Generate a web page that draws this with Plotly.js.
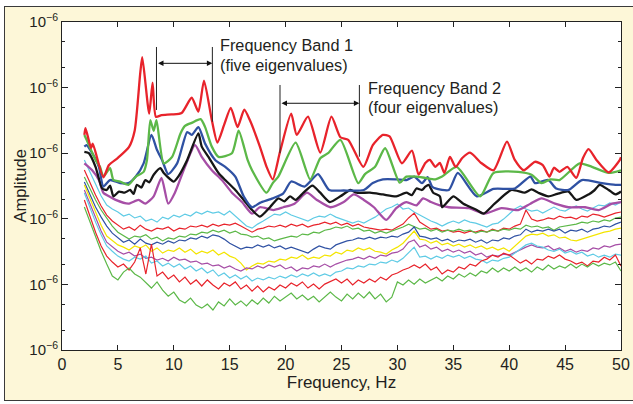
<!DOCTYPE html>
<html><head><meta charset="utf-8">
<script src="https://cdn.plot.ly/plotly-3.0.1.min.js"></script>
<style>
html,body{margin:0;padding:0;background:#fff;}
#frame{position:absolute;left:4px;top:6px;width:640px;height:395px;background:#fdf7d8;border:1.5px solid #3a3a3a;box-sizing:border-box;}
#chart{position:absolute;left:0;top:0;width:633px;height:404px;}
</style></head><body>
<div id="frame"></div><div id="chart"></div>
<script>
// ---- thin (noisy) channels, sampled every 0.5 Hz ----
const freqThin = [2,2.5,3,3.5,4,4.5,5,5.5,6,6.5,7,7.5,8,8.5,9,9.5,10,10.5,11,11.5,12,12.5,13,13.5,14,14.5,15,15.5,16,16.5,17,17.5,18,18.5,19,19.5,20,20.5,21,21.5,22,22.5,23,23.5,24,24.5,25,25.5,26,26.5,27,27.5,28,28.5,29,29.5,30,30.5,31,31.5,32,32.5,33,33.5,34,34.5,35,35.5,36,36.5,37,37.5,38,38.5,39,39.5,40,40.5,41,41.5,42,42.5,43,43.5,44,44.5,45,45.5,46,46.5,47,47.5,48,48.5,49,49.5,50];
const cyanThin1 = [787,517,327,223,162,141,127,110,118,103, 110,92.5,99,89,106,99,114,106,118,110, 127,118,131,122,127,114,131,110,92.5,77.5, 72,83,92.5,103,118,114,127,114,106,99, 92.5,103,110,106,118,106,99,92.5,86,92.5, 86,96,106,122,141,151,168,141,146,127, 114,103,92.5,86,77.5,86,92.5,86,96,89, 86,80,75,83,86,99,118,141,157,141, 131,136,122,136,151,136,131,146,157,141, 131,146,162,157,174,162,180];
const redThin1 = [554,351,231,157,114,92.5,80,69.5,75,67, 80,69.5,65,72,69.5,75,65,72,69.5,77.5, 75,80,75,83,77.5,83,80,86,77.5,69.5, 62.5,69.5,72,77.5,75,80,75,83,77.5,83, 75,80,83,89,83,89,80,86,77.5,83, 75,72,69.5,67,69.5,67,75,83,103,122, 89,77.5,69.5,72,65,67,62.5,65,60.5,65, 62.5,67,62.5,69.5,65,72,69.5,77.5,83,136, 99,92.5,96,103,99,110,103,106,99,110, 106,118,114,106,114,122,127];
const greenThin1 = [434,285,193,136,103,77.5,62.5,54.5,49,54.5, 52.5,57,49,52.5,46,51,49,54.5,52.5,58.5, 57,62.5,60.5,67,62.5,67,60.5,65,58.5,57, 52.5,54.5,49,51,46,49,51,54.5,52.5,58.5, 57,62.5,60.5,67,69.5,75,72,77.5,69.5,72, 65,67,60.5,65,60.5,65,69.5,75,83,75, 69.5,72,65,69.5,62.5,67,65,69.5,65,67, 60.5,65,62.5,67,65,69.5,67,72,69.5,80, 75,77.5,72,75,67,75,77.5,80,83,89, 86,92.5,89,96,92.5,103,106];
const blueThin1 = [364,231,151,106,77.5,60.5,51,44,47.5,41, 49,42.5,40,44,41,46,42.5,47.5,46,51, 49,54.5,51,57,54.5,49,42.5,38.5,34.5,37, 36,40,37,40,36,38.5,34.5,37,34.5,32, 30,34.5,38.5,36,34.5,40,42.5,46,47.5,51, 49,52.5,49,52.5,51,54.5,52.5,58.5,62.5,75, 54.5,52.5,49,51,46,49,44,47.5,46,49, 44,47.5,42.5,47.5,46,51,49,54.5,57,69.5, 62.5,67,65,69.5,65,69.5,60.5,67,65,69.5, 62.5,69.5,72,77.5,75,83,89];
const yellowThin = [327,200,127,80,54.5,46,40,37,33.4,38.5, 36,40,32,36,30,33.4,32,36,31,34.5, 29,32,30,33.4,28,31,27,25,21.1,16.6, 19.1,21.1,20.4,22.7,21.9,24.3,23.5,26,25,28, 24.3,26,25,28,27,31,29,33.4,32,36, 33.4,36,32,31,29,33.4,37,42.5,52.5,65, 49,47.5,42.5,46,40,42.5,38.5,41,37,40, 36,38.5,34.5,37,33.4,36,32,38.5,46,54.5, 58.5,57,60.5,54.5,57,51,52.5,47.5,46,49, 51,54.5,58.5,62.5,65,69.5,72];
const magentaThin1 = [275,168,103,65,44,37,32,29,31,27, 29,25,26,23.5,25,22.7,26,23.5,24.3,21.9, 22.7,20.4,21.1,19.1,19.8,17.8,19.1,17.2,16,17.8, 17.2,19.1,17.8,19.8,18.4,19.8,17.2,18.4,16,17.8, 17.2,19.1,18.4,20.4,18.4,20.4,21.9,23.5,24.3,26, 24.3,27,25,28,27,30,31,34.5,44,47.5, 37,40,34.5,37,32,34.5,31,33.4,30,32, 28,30,26,28,27,29,28,31,33.4,37, 40,37,36,38.5,33.4,36,32,34.5,31,33.4, 32,36,34.5,38.5,37,40,41];
const cyanThin2 = [247,146,89,57,38.5,32,27,24.3,22.7,26, 24.3,27,21.1,22.7,19.1,21.1,18.4,20.4,17.2,19.1, 16,17.8,14.9,16.6,13.4,14.9,12.5,13.9,12.1,13.4, 11.3,12.5,11.7,12.9,12.1,13.4,12.5,13.9,12.9,14.4, 13.4,14.9,13.4,14.4,13.4,15.4,16,17.8,17.2,19.1, 18.4,20.4,19.8,21.9,21.1,23.5,21.9,25,31,37, 26,27,24.3,27,25,28,26,28,25,27, 24.3,23.5,21.1,23.5,22.7,25,26,30,34.5,40, 42.5,38.5,37,33.4,32,34.5,30,32,29,31, 27,29,26,28,26,29,28];
const redThin2 = [193,106,62.5,38.5,27,21.9,18.4,20.4,16.6,21.9, 36,14.4,41,13.4,15.4,12.1,13.9,10.9,12.9,10.1, 11.7,9.45,11.7,9.8,8.5,10.5,9.45,10.9,8.5,9.8, 7.9,9.45,7.65,9.1,8.2,9.8,8.8,10.5,9.45,10.9, 8.8,10.1,8.5,10.1,10.9,12.1,10.5,12.1,9.8,11.7, 10.5,12.1,10.9,12.9,11.7,13.9,14.9,16.6,17.8,19.8, 17.8,20.4,16.6,18.4,14.4,16.6,15.4,18.4,17.2,20.4, 19.1,22.7,24.3,28,26,30,28,24.3,21.1,23.5, 20.4,24.3,23.5,27,25,28,24.3,22.7,20.4,21.9, 19.1,22.7,21.9,26,23.5,28,19.1];
const greenThin2 = [151,89,51,32,20.4,13.4,11.7,15.4,17.8,14.4, 12.9,10.5,8.8,10.9,8.2,6.6,7.65,5.8,5.2,6.2, 4.85,4.35,5.0,4.07,5.4,4.7,6.0,4.85,5.6,4.7, 5.8,5.0,6.2,5.2,6.6,5.6,6.4,7.4,6.0,6.9, 5.8,6.6,5.4,6.4,7.65,6.4,5.6,7.1,6.0,7.4, 6.2,7.65,6.0,7.1,5.4,6.4,10.9,9.8,11.7,10.1, 12.1,10.5,11.7,12.9,11.3,13.4,12.1,14.4,12.9,14.9, 13.4,16,14.9,17.8,15.4,17.8,16,18.4,16,17.8, 15.4,18.4,16.6,19.8,17.2,19.1,17.8,20.4,17.8,20.4, 18.4,21.1,19.1,21.1,19.8,21.9,16];

// ---- thick channels ----
const redF = [2.0,2.1,2.6,2.75,3.7,4.2,5.0,6.0,6.5,7.0,7.18,7.8,8.1,8.4,8.9,9.8,10.7,11.6,12.2,12.7,13.4,13.9,14.5,15.1,15.7,16.3,16.8,17.7,18.3,18.85,19.5,20.5,21.0,22.0,23.1,24.1,24.9,25.6,26.95,27.8,28.7,29.3,30.4,31.3,31.9,32.5,32.9,33.4,33.8,34.2,34.7,35.2,35.8,36.5,37.5,38.6,39.8,40.5,41.3,42.3,43.0,43.6,44.0,44.5,45.2,46.0,46.6,47.1,47.8,48.9,49.9,50];
const redA = [1900,2400,1200,1400,430,660,850,1250,2200,16700,29000,4000,11900,3600,3800,3900,4100,7000,4300,12800,3200,1450,2700,4900,2500,4600,3200,1260,620,400,1050,4000,1900,3600,1020,3600,1750,1600,620,1330,1900,1800,700,1090,470,710,790,620,710,500,880,620,845,1020,710,550,1500,790,550,740,660,440,600,520,620,420,845,1150,790,510,790,870];
const greenF = [2.0,2.2,3.0,3.4,3.7,4.3,4.6,5.2,5.95,6.6,7.3,7.6,7.9,8.2,8.45,9.1,9.85,10.6,11.0,11.6,12.4,12.8,13.4,14.0,15.2,15.8,16.6,17.0,18.3,18.85,19.35,20.9,22.2,23.1,23.8,24.9,26.5,27.1,28.0,28.9,30.2,30.8,31.7,32.5,33.4,34.0,35.3,37.4,38.6,40.8,42.0,42.9,43.7,44.5,46.3,47.4,48.9,50];
const greenA = [1900,1600,790,620,440,590,390,370,330,440,520,790,3200,2200,3200,700,880,2000,2600,2900,3300,2500,1260,880,1000,2200,790,550,250,350,440,1450,400,840,1000,1600,350,480,620,1190,355,440,440,420,400,440,620,220,500,520,470,350,400,390,700,620,500,550];
const blueF = [2.0,2.2,2.7,3.3,3.7,4.3,5.2,5.95,6.6,7.3,8.0,8.5,8.95,9.5,10.3,11.2,11.6,12.2,12.8,13.7,14.6,15.5,16.25,17.0,17.7,18.85,19.8,20.5,21.7,22.9,23.9,25.2,27.0,27.8,28.7,29.9,30.8,31.5,32.2,32.7,33.1,33.4,34.6,35.4,37.1,38.6,40.5,41.9,42.3,43.5,44.2,45.3,46.5,48.3,49.5,50];
const blueA = [1260,1330,1000,620,310,390,350,350,440,700,1900,1120,790,480,700,2100,1900,2500,1400,790,620,440,220,150,175,205,245,370,310,480,275,270,275,350,400,400,390,440,350,430,310,290,275,500,220,285,290,440,350,390,290,275,390,350,330,330];
const blackF = [2.0,2.4,3.0,3.6,4.0,4.3,4.6,5.1,5.6,6.1,6.4,6.7,7.1,7.45,7.8,8.2,8.8,9.1,10.0,10.4,11.2,12.2,12.5,13.1,14.0,14.6,15.5,16.25,17.0,17.7,18.6,19.35,19.9,20.4,20.9,21.6,22.4,23.1,23.95,24.9,25.8,26.35,27.55,28.7,29.9,30.8,31.3,31.7,32.2,32.5,32.8,33.2,33.8,34.0,35.0,35.9,37.1,37.7,38.7,40.2,41.4,42.0,42.6,43.5,44.3,45.3,46.0,47.1,47.6,48.1,48.9,49.5,50];
const blackA = [1050,1000,620,290,275,320,220,260,250,275,240,330,300,390,360,470,590,500,370,440,790,2000,1260,880,500,390,275,194,136,108,150,205,185,220,194,250,320,250,180,220,275,250,250,235,220,250,230,290,275,310,330,250,220,150,220,170,136,120,170,275,250,280,250,220,240,260,194,235,270,330,275,235,260];
const magF = [2.0,2.7,3.3,3.7,4.2,4.8,5.95,6.85,7.45,8.2,8.9,9.5,10.1,11.0,11.9,12.5,13.4,14.3,15.2,16.1,17.0,17.7,18.9,19.8,20.8,21.9,22.8,24.0,25.2,26.1,27.0,27.9,29.0,29.9,30.8,31.7,32.3,33.0,33.8,34.6,36.4,37.8,39.3,40.8,41.9,42.9,44.1,45.3,46.8,48.0,49.2,50];
const magA = [700,550,390,250,220,194,170,194,170,220,420,170,250,620,1330,880,550,390,250,180,120,150,136,150,170,250,194,150,180,235,194,150,96,145,180,160,205,180,160,150,145,120,145,136,170,205,170,150,150,136,170,180];

// ---- axis ticks and titles ----
const xTicks = [0,5,10,15,20,25,30,35,40,45,50];
const yTickVals = [1,10,100,1000,10000,100000];
const yTickText = ['10<sup>\u22126</sup>','10<sup>\u22126</sup>','10<sup>\u22126</sup>','10<sup>\u22126</sup>','10<sup>\u22126</sup>','10<sup>\u22126</sup>'];
const xTitle = 'Frequency, Hz';
const yTitle = 'Amplitude';

// ---- band markers ----
const band1Edges = [8.45, 13.45];
const band1Top = [41600, 41600];
const band1Bottom = [4560, 3020];
const band1Arrow = 23450;
const band2Edges = [19.5, 26.6];
const band2Top = [10960, 10960];
const band2Bottom = [1000, 885];
const band2Arrow = 5770;
const band1Label = ['Frequency Band 1', '(five eigenvalues)'];
const band2Label = ['Frequency Band 2', '(four eigenvalues)'];
const band1LabelPos = [13.95, 44000, 22500];
const band2LabelPos = [27.15, 10000, 5050];

const C = {red:'#e8232b', green:'#5cb848', blue:'#2f51a3', black:'#161616', mag:'#a64ea6', cyan:'#5fcbe5', yellow:'#f3e500'};

const thin = [
  [cyanThin1, C.cyan],[redThin1, C.red],[greenThin1, C.green],[blueThin1, C.blue],
  [yellowThin, C.yellow],[magentaThin1, C.mag],[cyanThin2, C.cyan],[redThin2, C.red],[greenThin2, C.green]
];
const traces = thin.map(([y, c]) => ({x: freqThin, y: y, type:'scatter', mode:'lines', line:{color:c, width:1.2}, hoverinfo:'skip'}));
const thick = [[magF,magA,C.mag],[blackF,blackA,C.black],[blueF,blueA,C.blue],[greenF,greenA,C.green],[redF,redA,C.red]];
thick.forEach(([x,y,c]) => traces.push({x:x, y:y, type:'scatter', mode:'lines', line:{color:c, width:2.3, shape:'spline', smoothing:0.6}, hoverinfo:'skip'}));

const lineStyle = {color:'#222', width:1};
const shapes = [];
[[band1Edges, band1Top, band1Bottom],[band2Edges, band2Top, band2Bottom]].forEach(([e,t,b]) => {
  for (let i=0;i<2;i++) shapes.push({type:'line', xref:'x', yref:'y', x0:e[i], x1:e[i], y0:b[i], y1:t[i], line:lineStyle});
});

const font = {family:'Liberation Sans, Arial, sans-serif', color:'#231f20'};
const annotations = [];
[[band1Edges, band1Arrow],[band2Edges, band2Arrow]].forEach(([e,a]) => {
  annotations.push({x:e[1], y:Math.log10(a), ax:e[0], ay:Math.log10(a), xref:'x', yref:'y', axref:'x', ayref:'y',
    text:'', showarrow:true, arrowhead:2, arrowside:'end+start', arrowsize:1.1, arrowwidth:1, arrowcolor:'#111'});
});
[[band1Label, band1LabelPos],[band2Label, band2LabelPos]].forEach(([t,p]) => {
  annotations.push({x:p[0], y:Math.log10(p[1]), xref:'x', yref:'y', text:t[0], showarrow:false, xanchor:'left', yanchor:'middle', font:Object.assign({size:16.3}, font)});
  annotations.push({x:p[0], y:Math.log10(p[2]), xref:'x', yref:'y', text:t[1], showarrow:false, xanchor:'left', yanchor:'middle', font:Object.assign({size:16.3}, font)});
});
// y-axis title as a rotated annotation, left of the tick labels
annotations.push({xref:'paper', yref:'paper', x:-0.076, y:0.5, text:yTitle, textangle:-90, showarrow:false, xanchor:'center', yanchor:'middle', font:Object.assign({size:16.5}, font)});

const layout = {
  width:633, height:404,
  margin:{l:62, r:12, t:22, b:54},
  paper_bgcolor:'rgba(0,0,0,0)', plot_bgcolor:'#ffffff',
  showlegend:false,
  font:Object.assign({size:16}, font),
  xaxis:{range:[0,50], tickvals:xTicks, ticks:'inside', ticklen:5, tickcolor:'#222', showline:true, linecolor:'#222', linewidth:1, mirror:'allticks', showgrid:false, zeroline:false,
    tickfont:Object.assign({size:16}, font), title:{text:xTitle, font:Object.assign({size:17}, font), standoff:2}},
  yaxis:{type:'log', range:[0,5], tickvals:yTickVals, ticktext:yTickText, ticks:'inside', ticklen:6, tickcolor:'#222', showline:true, linecolor:'#222', linewidth:1, mirror:'allticks', showgrid:false, zeroline:false,
    minor:{ticks:'inside', ticklen:3, tickcolor:'#222', showgrid:false},
    tickfont:Object.assign({size:15}, font)},
  shapes:shapes, annotations:annotations
};
Plotly.newPlot('chart', traces, layout, {staticPlot:true, displayModeBar:false});
</script></body></html>
